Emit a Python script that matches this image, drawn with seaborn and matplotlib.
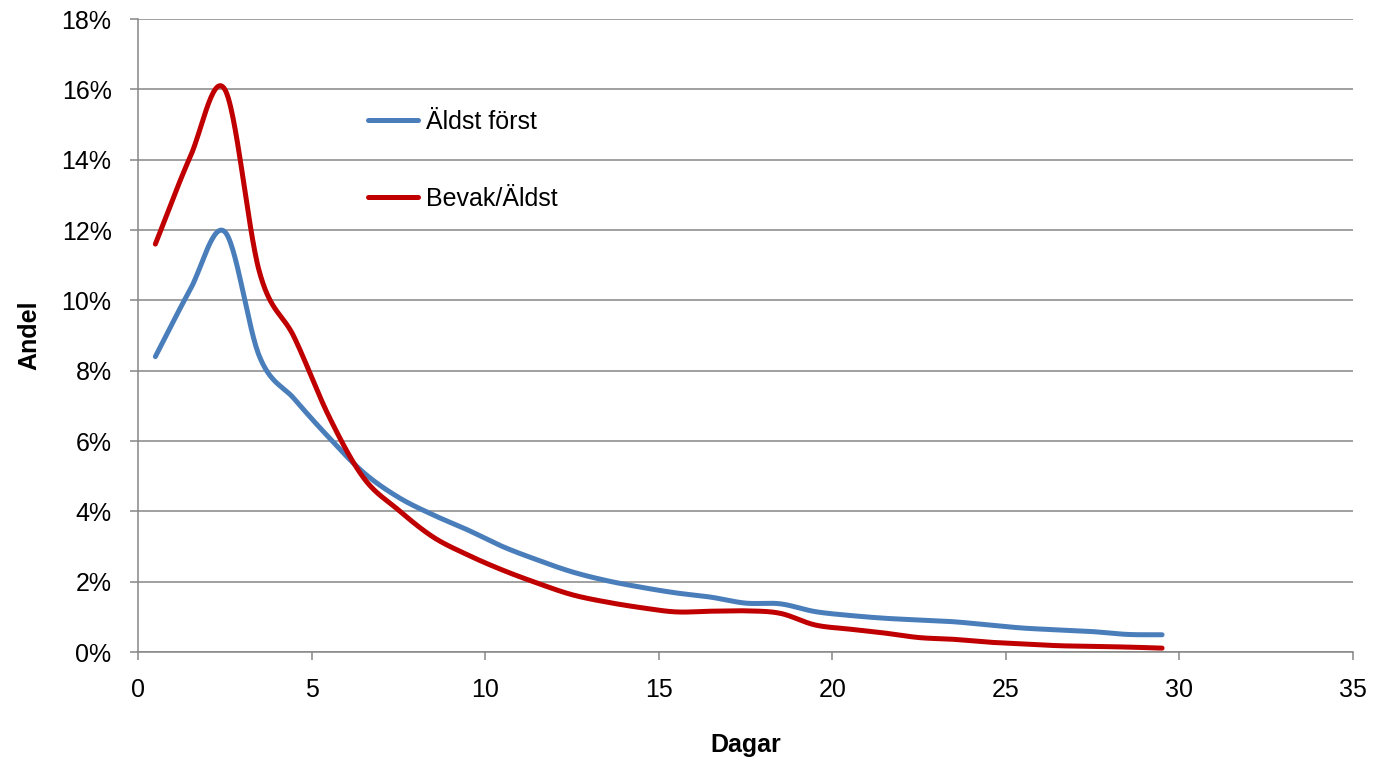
import numpy as np
import pandas as pd
import matplotlib
matplotlib.use("Agg")
import matplotlib.pyplot as plt
import seaborn as sns

# Data (percent)
days = [0.5 + i for i in range(30)]
aldst_forst = [8.4, 10.3, 11.95, 8.4, 7.2, 6.1, 5.1, 4.4, 3.9, 3.47,
               3.0, 2.62, 2.28, 2.03, 1.84, 1.68, 1.56, 1.39, 1.37, 1.15,
               1.04, 0.96, 0.91, 0.86, 0.77, 0.68, 0.63, 0.58, 0.5, 0.49]
bevak_aldst = [11.6, 14.07, 16.0, 10.8, 8.95, 6.7, 4.95, 4.04, 3.27, 2.76,
               2.33, 1.96, 1.63, 1.42, 1.26, 1.14, 1.16, 1.17, 1.1, 0.77,
               0.65, 0.54, 0.41, 0.36, 0.28, 0.23, 0.18, 0.16, 0.14, 0.11]
series_names = ["Äldst först", "Bevak/Äldst"]
colors = ["#4A7EBB", "#C00000"]
y_ticks = list(range(0, 19, 2))
x_ticks = list(range(0, 36, 5))


def smooth(x, y, n=30):
    """Catmull-Rom style smoothing (like Excel 'smoothed line')."""
    x = np.asarray(x, float)
    y = np.asarray(y, float)
    px = np.concatenate([[2 * x[0] - x[1]], x, [2 * x[-1] - x[-2]]])
    py = np.concatenate([[2 * y[0] - y[1]], y, [2 * y[-1] - y[-2]]])
    xs, ys = [], []
    t = np.linspace(0, 1, n, endpoint=False)
    for i in range(1, len(px) - 2):
        p0, p1, p2, p3 = py[i - 1], py[i], py[i + 1], py[i + 2]
        q0, q1, q2, q3 = px[i - 1], px[i], px[i + 1], px[i + 2]
        b1y = p1 + (p2 - p0) / 6
        b2y = p2 - (p3 - p1) / 6
        b1x = q1 + (q2 - q0) / 6
        b2x = q2 - (q3 - q1) / 6
        xs.append((1 - t) ** 3 * q1 + 3 * (1 - t) ** 2 * t * b1x + 3 * (1 - t) * t ** 2 * b2x + t ** 3 * q2)
        ys.append((1 - t) ** 3 * p1 + 3 * (1 - t) ** 2 * t * b1y + 3 * (1 - t) * t ** 2 * b2y + t ** 3 * p2)
    xs.append([x[-1]])
    ys.append([y[-1]])
    return np.concatenate(xs), np.concatenate(ys)


frames = []
for name, vals in zip(series_names, [aldst_forst, bevak_aldst]):
    sx, sy = smooth(days, vals)
    frames.append(pd.DataFrame({"Dagar": sx, "Andel": sy, "Serie": name}))
df = pd.concat(frames, ignore_index=True)

sns.set_theme(style="white")
plt.rcParams["font.family"] = ["Liberation Sans", "DejaVu Sans"]
plt.rcParams["text.color"] = "black"
plt.rcParams["axes.labelcolor"] = "black"

fs = 18

fig = plt.figure(figsize=(13.73, 7.58), dpi=100)
ax = fig.add_axes([138 / 1373, 1 - 652 / 758, (1353 - 138) / 1373, (652 - 19) / 758])

sns.lineplot(data=df, x="Dagar", y="Andel", hue="Serie", hue_order=series_names,
             palette=colors, linewidth=3.6, sort=False, ax=ax, estimator=None,
             solid_capstyle="round")

ax.set_xlim(0, 35)
ax.set_ylim(0, 18)
ax.set_xticks(x_ticks)
ax.set_xticklabels([str(v) for v in x_ticks])
ax.set_yticks(y_ticks)
ax.set_yticklabels([f"{v}%" for v in y_ticks])

gray = "#868686"
ax.yaxis.grid(True, color=gray, linewidth=1.1)
ax.xaxis.grid(False)
ax.set_axisbelow(True)
for s in ["top", "right"]:
    ax.spines[s].set_visible(False)
for s in ["left", "bottom"]:
    ax.spines[s].set_color(gray)
    ax.spines[s].set_linewidth(1.1)
ax.tick_params(axis="both", which="major", direction="out", length=6, width=1.1,
               color=gray, labelsize=fs, labelcolor="black",
               left=True, bottom=True)
ax.tick_params(axis="y", pad=13)
ax.tick_params(axis="x", pad=13)

ax.set_xlabel("Dagar", fontsize=fs, fontweight="bold", color="black")
ax.set_ylabel("Andel", fontsize=fs, fontweight="bold", color="black")
ax.xaxis.set_label_coords(0.5, -0.128)
ax.yaxis.set_label_coords(-0.0795, 0.5)

leg = ax.legend(loc="upper left", bbox_to_anchor=(0.189, 0.8563), frameon=False,
                fontsize=fs, handlelength=2.0, handletextpad=0.35,
                labelspacing=2.11, borderaxespad=0, borderpad=0)
for h in leg.get_lines():
    h.set_linewidth(3.6)
for t in leg.get_texts():
    t.set_color("black")

fig.savefig("out.png", dpi=100)
